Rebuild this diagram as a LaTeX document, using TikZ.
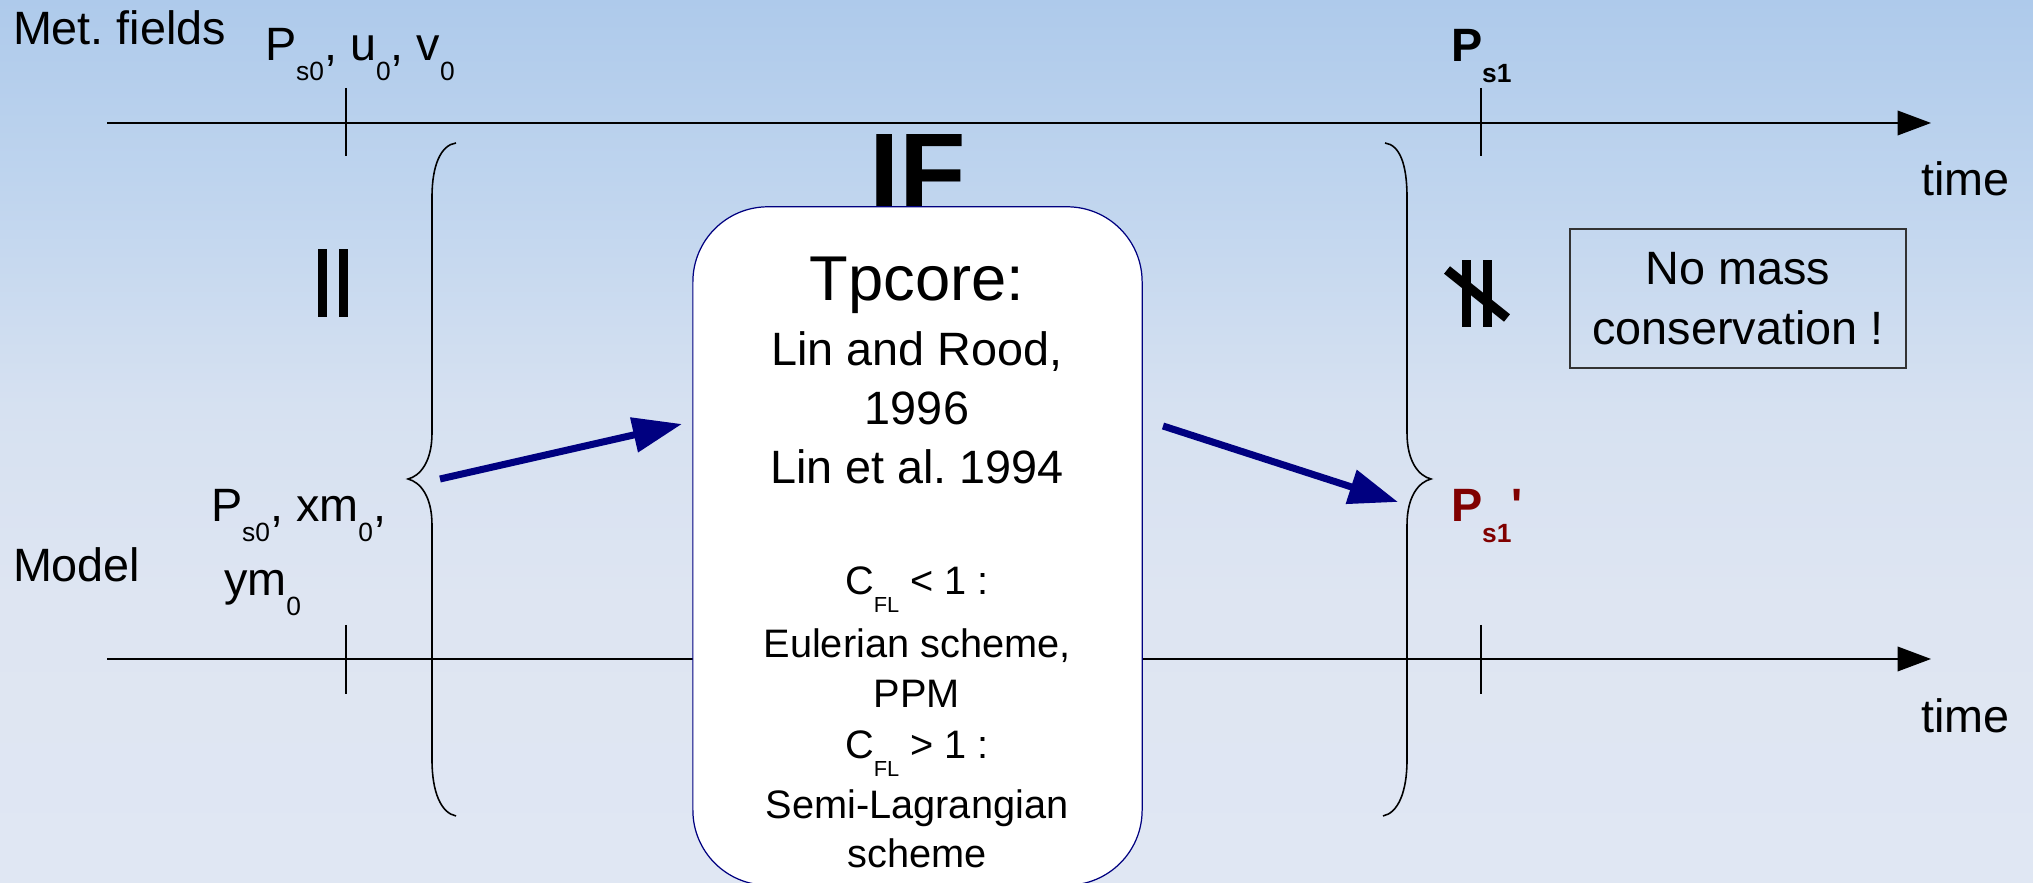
\documentclass[tikz,border=0pt]{standalone}
\usepackage{fontspec}
\setmainfont{Liberation Sans}
\usetikzlibrary{arrows.meta}
\frenchspacing
\definecolor{bgA}{RGB}{174,202,235}
\definecolor{bgB}{RGB}{190,212,238}
\definecolor{bgC}{RGB}{214,225,241}
\definecolor{bgD}{RGB}{222,229,242}
\definecolor{bgE}{RGB}{224,231,243}
\definecolor{navy}{RGB}{0,0,128}
\definecolor{darkred}{RGB}{128,0,0}
\pgfdeclareverticalshading{bgshade}{100bp}{color(0bp)=(bgE); color(25bp)=(bgE); color(41bp)=(bgD); color(52bp)=(bgC); color(65bp)=(bgB); color(75bp)=(bgA); color(100bp)=(bgA)}
\newcommand\subA[1]{\raisebox{-5.5pt}{\fontsize{7.5}{8}\selectfont #1}}
\newcommand\subB[1]{\raisebox{-5.8pt}{\fontsize{7.5}{8}\selectfont\bfseries #1}}
\newcommand\subC[1]{\raisebox{-5pt}{\fontsize{6.2}{7}\selectfont #1}}
\newcommand\straightprime{{\addfontfeatures{Ligatures=TeXOff}'}}
\begin{document}
\begin{tikzpicture}[x=0.01cm,y=-0.01cm,
  txt/.style={inner sep=0pt, outer sep=0pt, font=\fontsize{13.3}{16}\selectfont},
  coretxt/.style={inner sep=0pt, outer sep=0pt, font=\fontsize{11.3}{14}\selectfont},
  axisline/.style={line width=0.45pt, -{Triangle[length=9.5pt,width=7pt]}},
  tickline/.style={line width=0.4pt},
  bracepath/.style={line width=0.45pt},
  bigarrow/.style={navy, line width=2pt, -{Triangle[length=14pt,width=9.7pt]}},
  bar/.style={fill=black, draw=none}]
\useasboundingbox (0,0) rectangle (2033,883);
\shade[shading=bgshade] (0,0) rectangle (2033,883);

% axes
\coordinate (ts) at (107,123); \coordinate (te) at (1931,123);
\coordinate (bs) at (107,659); \coordinate (be) at (1931,659);
\draw[axisline] (ts) -- (te);
\draw[axisline] (bs) -- (be);
% ticks
\coordinate (tk1a) at (346,88);  \coordinate (tk1b) at (346,156);
\coordinate (tk2a) at (1481,88); \coordinate (tk2b) at (1481,156);
\coordinate (tk3a) at (346,625);  \coordinate (tk3b) at (346,694);
\coordinate (tk4a) at (1481,625); \coordinate (tk4b) at (1481,694);
\draw[tickline] (tk1a) -- (tk1b);
\draw[tickline] (tk2a) -- (tk2b);
\draw[tickline] (tk3a) -- (tk3b);
\draw[tickline] (tk4a) -- (tk4b);

% labels
\node[txt, anchor=base west] (met) at (13,45) {Met. fields};
\node[txt, anchor=base west] (p0) at (265,61) {P\subA{s0}, u\subA{0}, v\subA{0}};
\node[txt, anchor=base west, font=\fontsize{13.3}{16}\selectfont\bfseries] (ps1) at (1451,62) {P\subB{s1}};
\node[txt, anchor=base west] (time1) at (1921,196) {time};
\node[txt, anchor=base west] (time2) at (1921,733) {time};
\node[txt, anchor=base west] (model) at (13,582) {Model};
\node[txt, anchor=base west] (pm1) at (211,522) {P\subA{s0}, xm\subA{0},};
\node[txt, anchor=base west] (pm2) at (224,596) {ym\subA{0}};
\node[txt, anchor=base west, text=darkred, font=\fontsize{13.3}{16}\selectfont\bfseries] (ps1p) at (1451,522) {P\subB{s1}\straightprime};

% IF
\node[inner sep=0pt, anchor=base, font=\fontsize{31}{31}\selectfont\bfseries] (iftxt) at (918,210) {IF};

% braces
\draw[bracepath] (456,143) .. controls (441,145) and (432,165) .. (432,197) -- (432,433)
  .. controls (432,462) and (420,476) .. (408,479)
  .. controls (420,482) and (432,496) .. (432,525) -- (432,760)
  .. controls (432,792) and (441,813) .. (456,816);
\draw[bracepath] (1385,143) .. controls (1400,145) and (1407,165) .. (1407,197) -- (1407,433)
  .. controls (1407,462) and (1419,476) .. (1431,479)
  .. controls (1419,482) and (1407,496) .. (1407,525) -- (1407,760)
  .. controls (1407,792) and (1398,813) .. (1383,816);

% equal / not equal
\fill[bar] (318,249) rectangle (327,317);
\fill[bar] (339,249) rectangle (348,317);
\fill[bar] (1462,260) rectangle (1471,327);
\fill[bar] (1483,260) rectangle (1492,327);
\draw[line width=2.7pt] (1447,270) -- (1507,318);

% core box
\node[draw=navy, fill=white, line width=0.35pt, rounded corners=0.75cm,
      minimum width=4.49cm, minimum height=6.78cm, inner sep=0pt] (core) at (917.5,546) {};
\node[coretxt, anchor=base, font=\fontsize{18}{20}\selectfont] (tp) at (917,301) {Tpcore:};
\node[txt, anchor=base] (l1) at (917,366) {Lin and Rood,};
\node[txt, anchor=base] (l2) at (917,425) {1996};
\node[txt, anchor=base] (l3) at (917,484) {Lin et al. 1994};
\node[coretxt, anchor=base] (c1) at (917,595) {C\subC{FL} < 1 :};
\node[coretxt, anchor=base] (c2) at (917,658) {Eulerian scheme,};
\node[coretxt, anchor=base] (c3) at (917,708) {PPM};
\node[coretxt, anchor=base] (c4) at (917,759) {C\subC{FL} > 1 :};
\node[coretxt, anchor=base] (c5) at (917,819) {Semi-Lagrangian};
\node[coretxt, anchor=base] (c6) at (917,868) {scheme};

% arrows
\coordinate (la1) at (440,479); \coordinate (la2) at (682,424);
\coordinate (ra1) at (1163,426); \coordinate (ra2) at (1398,502);
\draw[bigarrow] (la1) -- (la2);
\draw[bigarrow] (ra1) -- (ra2);

% no mass box
\node[draw=black!80, line width=0.4pt, minimum width=3.36cm, minimum height=1.39cm, inner sep=0pt] (nomass) at (1738,298.5) {};
\node[txt, anchor=base] (nm1) at (1738,285) {No mass};
\node[txt, anchor=base] (nm2) at (1738,345) {conservation !};
\end{tikzpicture}
\end{document}
